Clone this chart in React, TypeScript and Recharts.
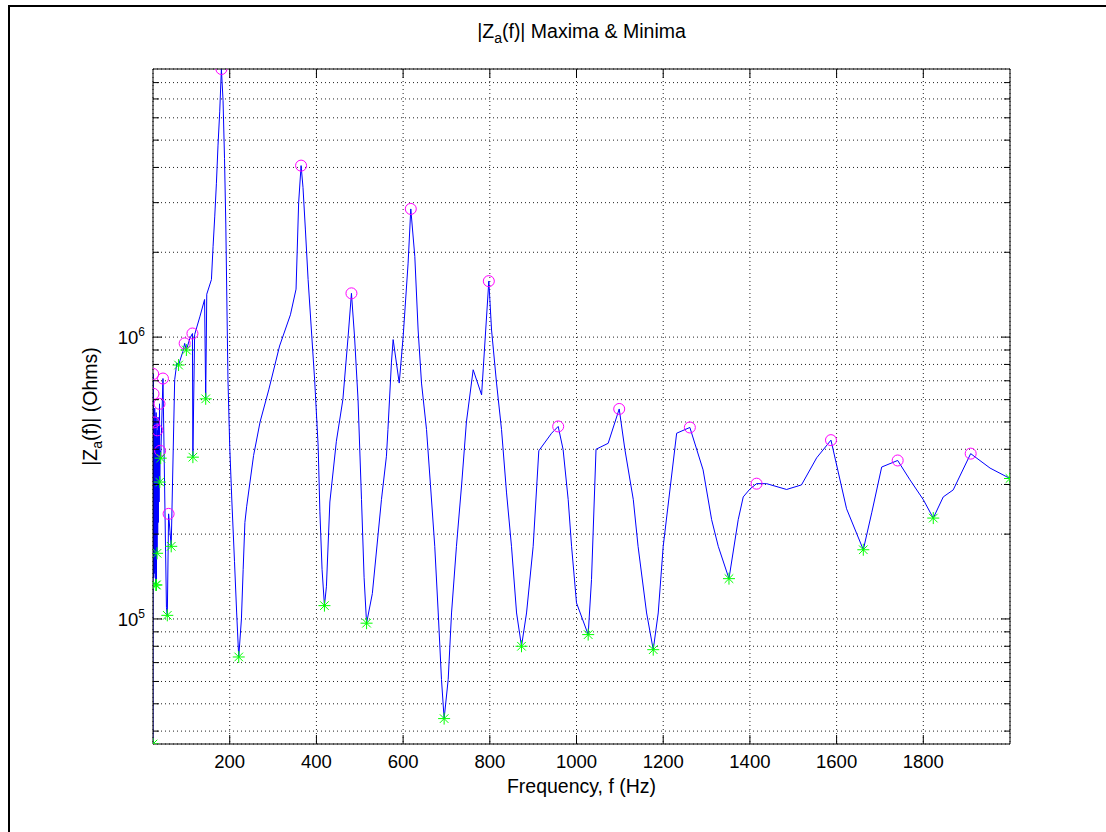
import React from "react";
import { CartesianGrid, ComposedChart, Line, Scatter, XAxis, YAxis } from "recharts";

// |Za(f)| trace
const lineFreq = [
  23, 23.4, 23.8, 24.2, 24.8, 25.4, 26.2, 27, 27.8, 28.6, 29.4, 30.2, 31, 31.8, 32.4, 33, 33.8, 34.6,
  35.4, 36.2, 37, 38, 38.6, 39.4, 40.8, 46, 54, 56, 59, 65, 73, 78, 82, 92, 96, 100, 108, 114, 115,
  119, 131, 142, 144.6, 147, 157.8, 161.6, 165.4, 169.2, 173, 176.9, 180.8, 184.6, 188, 191, 193.5,
  196, 200, 205, 211, 216, 220.8, 227, 231, 235, 239, 255, 270, 290, 315, 340, 353, 359, 364.6, 369,
  374.6, 380.8, 396, 404, 408, 413, 418.5, 423, 431, 446, 461, 473, 480.8, 488, 496, 504, 510, 515.7,
  529, 550, 561.5, 565, 573, 577, 591, 600, 611.5, 617.7, 627, 634.6, 642.4, 654, 663, 673, 681,
  688.5, 694.6, 704, 711.7, 723, 735, 746, 761.6, 781, 797.7, 804, 815.5, 827, 838.6, 850, 861.7,
  873.1, 884.7, 900, 913, 942.5, 957.7, 969, 980.8, 988.6, 1000, 1026.9, 1034.6, 1045, 1073, 1098.5,
  1111.5, 1131, 1142, 1161.7, 1177, 1188.5, 1200, 1231, 1261.5, 1292, 1311.7, 1327, 1351.7, 1373,
  1384.6, 1400, 1415.4, 1438.5, 1484.6, 1519, 1554, 1587, 1623, 1661.6, 1681, 1704, 1740.9, 1769,
  1800, 1823, 1846, 1869, 1909.3, 1954, 2000,
];
const lineMag = [
  3.6e4, 7.4e5, 1.6e5, 6.29e5, 1.4e5, 4.98e5, 1.45e5, 5.6e5, 1.5e5, 5.2e5, 1.32e5, 5.4e5, 1.32e5,
  4.4e5, 1.71e5, 4.67e5, 2.0e5, 5.2e5, 2.2e5, 5.0e5, 2.6e5, 5.8e5, 3.06e5, 3.95e5, 3.72e5, 7.13e5,
  1.1e5, 1.03e5, 2.36e5, 1.81e5, 7.06e5, 8.1e5, 7.96e5, 8.9e5, 9.5e5, 9.0e5, 9.9e5, 1.03e6, 3.75e5,
  1.02e6, 1.18e6, 1.36e6, 6.04e5, 1.42e6, 1.6e6, 2.1e6, 2.67e6, 3.5e6, 4.8e6, 6.3e6, 8.94e6, 6.9e6,
  4.3e6, 2.5e6, 1.3e6, 7.0e5, 4.1e5, 2.6e5, 1.6e5, 1.05e5, 7.33e4, 1.0e5, 1.5e5, 2.2e5, 2.5e5,
  3.8e5, 5.0e5, 6.5e5, 9.3e5, 1.2e6, 1.48e6, 3.0e6, 4.06e6, 3.4e6, 2.4e6, 1.6e6, 7.0e5, 4.1e5,
  2.4e5, 1.5e5, 1.115e5, 1.3e5, 2.6e5, 4.27e5, 6.0e5, 1.0e6, 1.43e6, 1.0e6, 6.0e5, 2.65e5, 1.4e5,
  9.66e4, 1.23e5, 2.65e5, 3.78e5, 4.7e5, 8.1e5, 9.8e5, 6.87e5, 1.0e6, 1.83e6, 2.85e6, 1.93e6,
  1.06e6, 6.87e5, 4.7e5, 3.0e5, 1.81e5, 1.05e5, 6.1e4, 4.43e4, 6.1e4, 1.05e5, 1.81e5, 3.0e5, 5.0e5,
  7.66e5, 6.24e5, 1.58e6, 1.06e6, 6.87e5, 4.7e5, 2.8e5, 1.81e5, 1.05e5, 8.0e4, 1.05e5, 1.81e5,
  3.95e5, 4.56e5, 4.82e5, 4.0e5, 2.65e5, 1.81e5, 1.14e5, 8.8e4, 1.38e5, 4.0e5, 4.2e5, 5.56e5,
  4.0e5, 2.65e5, 1.81e5, 1.05e5, 7.78e4, 1.05e5, 1.81e5, 4.56e5, 4.78e5, 3.38e5, 2.25e5, 1.81e5,
  1.39e5, 2.25e5, 2.71e5, 2.89e5, 3.02e5, 3.02e5, 2.88e5, 2.99e5, 3.73e5, 4.31e5, 2.46e5, 1.76e5,
  2.38e5, 3.46e5, 3.65e5, 3.12e5, 2.65e5, 2.28e5, 2.71e5, 2.87e5, 3.86e5, 3.43e5, 3.15e5,
];

// maxima (magenta circles)
const maxFreq = [23.4, 24.2, 25.4, 33, 38, 39.4, 46, 59, 96, 114, 180.8, 364.6, 480.8, 617.7, 797.7, 957.7, 1098.5, 1261.5, 1415.4, 1587, 1740.9, 1909.3];
const maxMag = [7.4e5, 6.29e5, 4.98e5, 4.67e5, 5.8e5, 3.95e5, 7.13e5, 2.36e5, 9.5e5, 1.03e6, 8.94e6, 4.06e6, 1.43e6, 2.85e6, 1.58e6, 4.82e5, 5.56e5, 4.78e5, 3.02e5, 4.31e5, 3.65e5, 3.86e5];

// minima (green stars)
const minFreq = [23, 29.4, 31, 32.4, 38.6, 40.8, 56, 65, 82, 100, 115, 144.6, 220.8, 418.5, 515.7, 694.6, 873.1, 1026.9, 1177, 1351.7, 1661.6, 1823, 2000];
const minMag = [3.6e4, 1.32e5, 1.32e5, 1.71e5, 3.06e5, 3.72e5, 1.03e5, 1.81e5, 7.96e5, 9.0e5, 3.75e5, 6.04e5, 7.33e4, 1.115e5, 9.66e4, 4.43e4, 8.0e4, 8.8e4, 7.78e4, 1.39e5, 1.76e5, 2.28e5, 3.15e5];

const xTicks = [200, 400, 600, 800, 1000, 1200, 1400, 1600, 1800];
const yTicks = [
  4e4, 5e4, 6e4, 7e4, 8e4, 9e4,
  1e5, 2e5, 3e5, 4e5, 5e5, 6e5, 7e5, 8e5, 9e5,
  1e6, 2e6, 3e6, 4e6, 5e6, 6e6, 7e6, 8e6,
];

const toPoints = (fs: number[], vs: number[]) => fs.map((f, i) => ({ f, v: vs[i] }));
const trace = toPoints(lineFreq, lineMag);
const maxima = toPoints(maxFreq, maxMag);
const minima = toPoints(minFreq, minMag);

const FONT = "'Liberation Sans', Arial, Helvetica, sans-serif";
const xDomain = [23, 2000];
const yDomain = [3.6e4, 8.94e6];

const isDecade = (v: number) => Math.abs(Math.log10(v) - Math.round(Math.log10(v))) < 1e-9;

const LeftTick = (props: any) => {
  const { x, y, payload } = props;
  const v = payload.value;
  const major = isDecade(v);
  return (
    <g>
      <line x1={x} x2={x + (major ? 9 : 6)} y1={y} y2={y} stroke="#000" />
      {major && (
        <text x={x - 8} y={y + 7} textAnchor="end" fontSize={18.5} fontFamily={FONT} fill="#000">
          10
          <tspan dy={-8} fontSize={12}>
            {Math.round(Math.log10(v))}
          </tspan>
        </text>
      )}
    </g>
  );
};

const RightTick = (props: any) => {
  const { x, y, payload } = props;
  const major = isDecade(payload.value);
  return <line x1={x} x2={x - (major ? 9 : 6)} y1={y} y2={y} stroke="#000" />;
};

const BottomTick = (props: any) => {
  const { x, y, payload } = props;
  return (
    <g>
      <line x1={x} x2={x} y1={y} y2={y - 9} stroke="#000" />
      <text x={x} y={y + 24} textAnchor="middle" fontSize={18.5} fontFamily={FONT} fill="#000">
        {payload.value}
      </text>
    </g>
  );
};

const TopTick = (props: any) => {
  const { x, y } = props;
  return <line x1={x} x2={x} y1={y} y2={y + 9} stroke="#000" />;
};

const Ring = (props: any) => (
  <circle cx={props.cx} cy={props.cy} r={5.5} fill="none" stroke="#ff00ff" strokeWidth={1} />
);

const Star = (props: any) => {
  const { cx, cy } = props;
  const a = 6;
  const d = 4.3;
  return (
    <g stroke="#00ff00" strokeWidth={1}>
      <line x1={cx - a} x2={cx + a} y1={cy} y2={cy} />
      <line x1={cx} x2={cx} y1={cy - a} y2={cy + a} />
      <line x1={cx - d} x2={cx + d} y1={cy - d} y2={cy + d} />
      <line x1={cx - d} x2={cx + d} y1={cy + d} y2={cy - d} />
    </g>
  );
};

const App: React.FC = () => {
  return (
    <div style={{ position: "absolute", left: 0, top: 0, width: 1106, height: 832, background: "#fff", overflow: "hidden" }}>
      <ComposedChart width={1106} height={832} margin={{ top: 68, right: 95, bottom: 58, left: 93 }}>
        <CartesianGrid xAxisId="b" yAxisId="l" stroke="#222" strokeDasharray="1 3" />
        <XAxis
          xAxisId="b"
          dataKey="f"
          type="number"
          domain={xDomain}
          allowDataOverflow
          ticks={xTicks}
          interval={0}
          height={30}
          tickSize={0}
          tickMargin={0}
          tick={<BottomTick />}
          axisLine={{ stroke: "#000" }}
        />
        <XAxis
          xAxisId="t"
          orientation="top"
          dataKey="f"
          type="number"
          domain={xDomain}
          allowDataOverflow
          ticks={xTicks}
          interval={0}
          height={1}
          tickSize={0}
          tickMargin={0}
          tick={<TopTick />}
          axisLine={{ stroke: "#000" }}
        />
        <YAxis
          yAxisId="l"
          dataKey="v"
          type="number"
          scale="log"
          domain={yDomain}
          allowDataOverflow
          ticks={yTicks}
          interval={0}
          width={60}
          tickSize={0}
          tickMargin={0}
          tick={<LeftTick />}
          axisLine={{ stroke: "#000" }}
        />
        <YAxis
          yAxisId="r"
          orientation="right"
          dataKey="v"
          type="number"
          scale="log"
          domain={yDomain}
          allowDataOverflow
          ticks={yTicks}
          interval={0}
          width={1}
          tickSize={0}
          tickMargin={0}
          tick={<RightTick />}
          axisLine={{ stroke: "#000" }}
        />
        <Line
          data={trace}
          xAxisId="b"
          yAxisId="l"
          dataKey="v"
          type="linear"
          stroke="#0000ff"
          strokeWidth={1}
          dot={false}
          activeDot={false}
          isAnimationActive={false}
        />
        <Scatter data={maxima} xAxisId="b" yAxisId="l" dataKey="v" shape={<Ring />} isAnimationActive={false} />
        <Scatter data={minima} xAxisId="b" yAxisId="l" dataKey="v" shape={<Star />} isAnimationActive={false} />
      </ComposedChart>

      <svg width={1106} height={832} style={{ position: "absolute", left: 0, top: 0, pointerEvents: "none" }}>
        <path d="M9 832 L9 6 L1106 6" fill="none" stroke="#000" strokeWidth={2} />
        <text x={581.5} y={38} textAnchor="middle" fontSize={19.5} fontFamily={FONT} fill="#000">
          |Z<tspan fontSize={14} dy={5}>a</tspan>
          <tspan dy={-5}>(f)| Maxima &amp; Minima</tspan>
        </text>
        <text x={581.5} y={793} textAnchor="middle" fontSize={19.5} fontFamily={FONT} fill="#000">
          Frequency, f (Hz)
        </text>
        <text x={97} y={406.5} textAnchor="middle" fontSize={19.5} fontFamily={FONT} fill="#000" transform="rotate(-90 97 406.5)">
          |Z<tspan fontSize={14} dy={5}>a</tspan>
          <tspan dy={-5}>(f)| (Ohms)</tspan>
        </text>
      </svg>
    </div>
  );
};

export default App;
